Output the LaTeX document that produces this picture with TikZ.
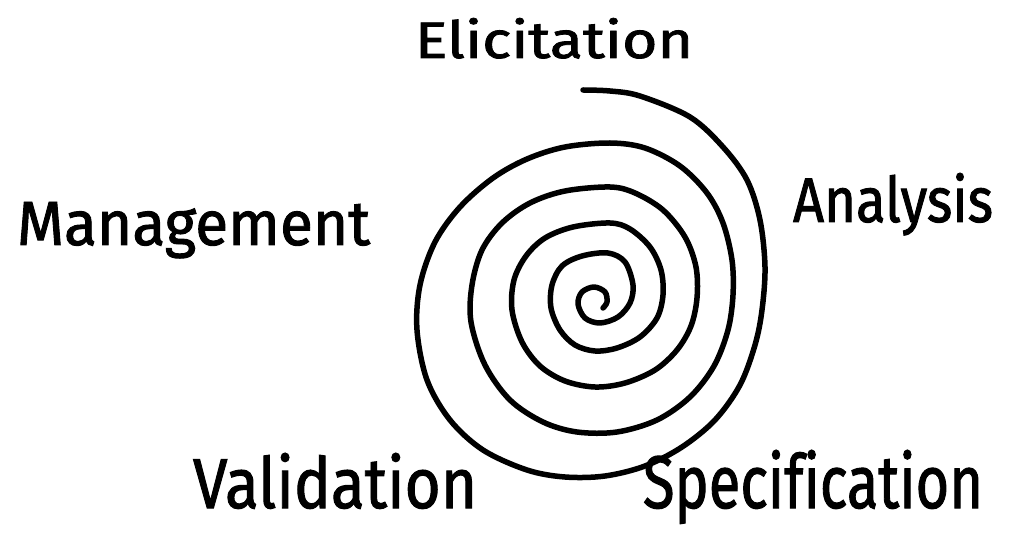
\documentclass[tikz,border=0pt]{standalone}
\usepackage{fontspec}
\setmainfont{Fira Sans}[Ligatures=NoCommon]
\newfontfamily\handfont{Fira Sans}[Ligatures=NoCommon, FakeBold=1.5]
\usepackage{graphicx}
\tikzset{
  spiralline/.style={line width=5.5pt, line cap=round, line join=round, black},
  word/.style={anchor=base west, inner sep=0pt, outer sep=0pt, font=\handfont}
}
\begin{document}
\begin{tikzpicture}[x=1pt,y=-1pt]
\useasboundingbox (0,0) rectangle (1010,537);
\fill[white] (0,0) rectangle (1010,537);
\draw[spiralline] plot[smooth, tension=0.55] coordinates {
(583,90) (610,91) (640,96) (690,117) (723,147) (747,180) (760,220) (765,267)
(762,310) (755,345) (740,385) (715,420) (682,447) (645,466) (605,476) (565,477)
(527,470) (483,450) (450,420) (427,380) (417,330) (420,285) (435,242) (460,207)
(493,178) (527,159) (565,147) (610,143)
(645,148) (680,166) (707,193) (723,223) (732,260) (733,295) (728,330) (714,366)
(690,397) (657,420) (617,432) (577,432) (543,422) (510,400) (485,365) (471,322)
(472,285) (482,250) (502,223) (530,203) (565,191) (610,187)
(635,193) (663,210) (685,237) (696,267) (697,298) (691,326) (677,350) (655,370)
(625,383) (595,387) (565,381) (540,366) (522,342) (512,310) (514,280) (526,256)
(545,238) (573,227) (610,223)
(630,229) (650,247) (661,270) (663,295) (657,318) (640,337) (617,348) (595,351)
(575,345) (560,330) (551,308) (552,285) (562,266) (582,256) (608,253)
(625,262) (633,285) (630,303) (618,317) (600,323) (585,318) (578,304) (582,292)
(594,287) (605,292) (607,302) (603,308)
};
\node[word] (elicitation) at (415,58) {\resizebox{278pt}{40pt}{Elicitation}};
\node[word] (analysis) at (793,222) {\resizebox{200pt}{49pt}{Analysis}};
\node[word] (management) at (17,245) {\resizebox{353pt}{43pt}{Management}};
\node[word] (validation) at (193,508) {\resizebox{284pt}{55pt}{Validation}};
\node[word] (specification) at (643,508) {\resizebox{340pt}{58pt}{Specification}};
\end{tikzpicture}
\end{document}
